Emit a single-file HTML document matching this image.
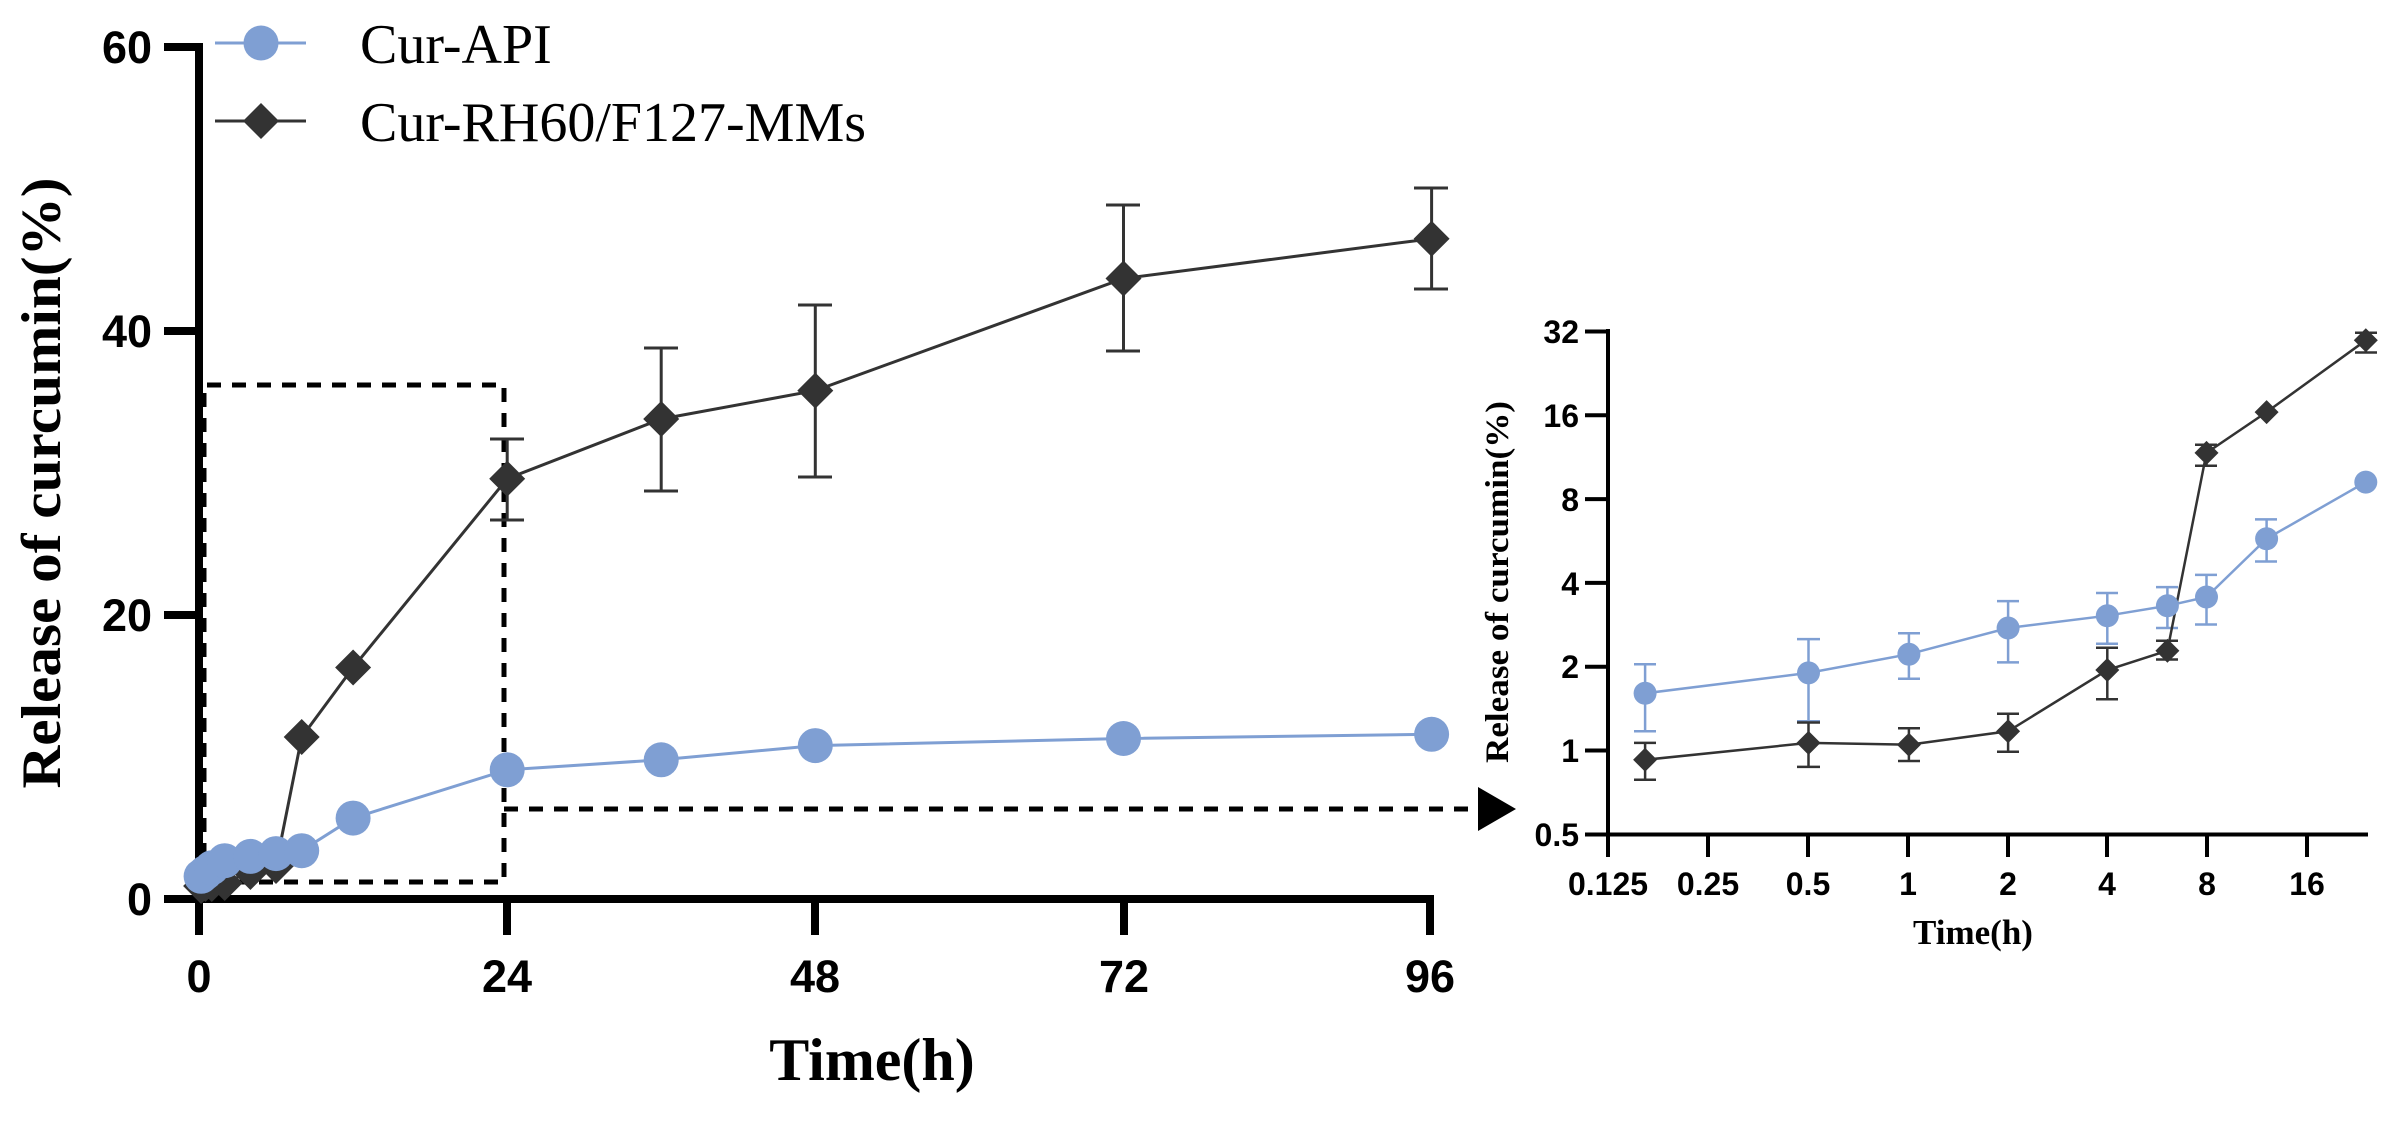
<!DOCTYPE html>
<html><head><meta charset="utf-8"><style>
html,body{margin:0;padding:0;background:#fff;}
svg{display:block;}
.tk{font-family:"Liberation Sans",Arial,sans-serif;font-weight:bold;}
.tm{font-family:"Liberation Serif","Times New Roman",serif;}
</style></head><body>
<svg width="2395" height="1124" viewBox="0 0 2395 1124" xmlns="http://www.w3.org/2000/svg">
<rect width="2395" height="1124" fill="#fff"/>
<!-- MAIN CHART -->
<g stroke="#000" stroke-width="8" fill="none">
<line x1="199" y1="43" x2="199" y2="903"/>
<line x1="195" y1="899" x2="1434" y2="899"/>
<line x1="164" y1="47" x2="199" y2="47"/>
<line x1="164" y1="331" x2="199" y2="331"/>
<line x1="164" y1="615" x2="199" y2="615"/>
<line x1="164" y1="899" x2="199" y2="899"/>
<line x1="199" y1="899" x2="199" y2="935"/>
<line x1="507" y1="899" x2="507" y2="935"/>
<line x1="815" y1="899" x2="815" y2="935"/>
<line x1="1124" y1="899" x2="1124" y2="935"/>
<line x1="1430" y1="899" x2="1430" y2="935"/>
</g>
<g class="tk" font-size="45" text-anchor="end" fill="#000">
<text x="152" y="63">60</text><text x="152" y="347">40</text><text x="152" y="631">20</text><text x="152" y="915">0</text>
</g>
<g class="tk" font-size="45" text-anchor="middle" fill="#000">
<text x="199" y="992">0</text><text x="507" y="992">24</text><text x="815" y="992">48</text><text x="1124" y="992">72</text><text x="1430" y="992">96</text>
</g>
<text class="tm" font-weight="bold" font-size="56" text-anchor="middle" transform="translate(60,483) rotate(-90)" textLength="611" lengthAdjust="spacingAndGlyphs">Release of curcumin(%)</text>
<text class="tm" font-weight="bold" font-size="60" text-anchor="middle" x="872" y="1080">Time(h)</text>
<!-- dashed box + arrow -->
<g stroke="#000" stroke-width="5" fill="none" stroke-dasharray="14,11">
<path d="M204,882 L204,385 L504,385 L504,882 Z"/>
<line x1="504" y1="809" x2="1480" y2="809"/>
</g>
<polygon points="1478,787 1516,809 1478,831" fill="#000"/>
<!-- blue series main -->
<g stroke="#7f9fd3" stroke-width="3" fill="none">
<polyline points="201.1,876.3 205.4,872.7 211.8,867.8 224.7,860.7 250.4,856.4 276,853.6 301.7,850.7 353.1,818.1 507.2,769.8 661.2,759.8 815.3,745.6 1123.5,738.5 1431.6,734.3"/>
</g>
<!-- black series main -->
<g stroke="#333" stroke-width="3" fill="none">
<polyline points="201.1,886.2 205.4,884.1 211.8,884.1 224.7,882.7 250.4,872 276,865.6 301.7,737.1 353.1,667.5 507.2,478.7 661.2,419 815.3,390.6 1123.5,278.5 1431.6,238.7"/>
<path d="M507.2,439 V520 M490,439 H524 M490,520 H524
M661.2,348 V491 M644,348 H678 M644,491 H678
M815.3,305 V477 M798,305 H832 M798,477 H832
M1123.5,205 V351 M1106,205 H1140 M1106,351 H1140
M1431.6,188 V289 M1414,188 H1448 M1414,289 H1448"/>
</g>
<g fill="#333">
<path d="M201.1,868l18,18l-18,18l-18,-18z M205.4,866l18,18l-18,18l-18,-18z M211.8,866l18,18l-18,18l-18,-18z M224.7,865l18,18l-18,18l-18,-18z M250.4,854l18,18l-18,18l-18,-18z M276,848l18,18l-18,18l-18,-18z M301.7,719l18,18l-18,18l-18,-18z M353.1,649.5l18,18l-18,18l-18,-18z M507.2,460.7l18,18l-18,18l-18,-18z M661.2,401l18,18l-18,18l-18,-18z M815.3,372.6l18,18l-18,18l-18,-18z M1123.5,260.5l18,18l-18,18l-18,-18z M1431.6,220.7l18,18l-18,18l-18,-18z"/>
</g>
<g fill="#7f9fd3">
<circle cx="201.1" cy="876.3" r="17.5"/><circle cx="205.4" cy="872.7" r="17.5"/><circle cx="211.8" cy="867.8" r="17.5"/><circle cx="224.7" cy="860.7" r="17.5"/><circle cx="250.4" cy="856.4" r="17.5"/><circle cx="276" cy="853.6" r="17.5"/><circle cx="301.7" cy="850.7" r="17.5"/><circle cx="353.1" cy="818.1" r="17.5"/><circle cx="507.2" cy="769.8" r="17.5"/><circle cx="661.2" cy="759.8" r="17.5"/><circle cx="815.3" cy="745.6" r="17.5"/><circle cx="1123.5" cy="738.5" r="17.5"/><circle cx="1431.6" cy="734.3" r="17.5"/>
</g>
<!-- legend -->
<line x1="215" y1="43" x2="306" y2="43" stroke="#7f9fd3" stroke-width="3"/>
<circle cx="261" cy="43" r="17.5" fill="#7f9fd3"/>
<line x1="215" y1="121" x2="306" y2="121" stroke="#333" stroke-width="3"/>
<path d="M261,103l18,18l-18,18l-18,-18z" fill="#333"/>
<text class="tm" font-size="56" x="360" y="63">Cur-API</text>
<text class="tm" font-size="56" x="360" y="141">Cur-RH60/F127-MMs</text>

<!-- INSET -->
<g stroke="#000" stroke-width="4" fill="none">
<line x1="1608" y1="329" x2="1608" y2="836"/>
<line x1="1606" y1="834.5" x2="2368" y2="834.5"/>
<line x1="1585" y1="331.5" x2="1608" y2="331.5"/>
<line x1="1585" y1="415.3" x2="1608" y2="415.3"/>
<line x1="1585" y1="499.1" x2="1608" y2="499.1"/>
<line x1="1585" y1="582.9" x2="1608" y2="582.9"/>
<line x1="1585" y1="666.7" x2="1608" y2="666.7"/>
<line x1="1585" y1="750.5" x2="1608" y2="750.5"/>
<line x1="1585" y1="834.5" x2="1608" y2="834.5"/>
<line x1="1608" y1="834.5" x2="1608" y2="857"/>
<line x1="1708" y1="834.5" x2="1708" y2="857"/>
<line x1="1808" y1="834.5" x2="1808" y2="857"/>
<line x1="1908" y1="834.5" x2="1908" y2="857"/>
<line x1="2008" y1="834.5" x2="2008" y2="857"/>
<line x1="2107" y1="834.5" x2="2107" y2="857"/>
<line x1="2207" y1="834.5" x2="2207" y2="857"/>
<line x1="2307" y1="834.5" x2="2307" y2="857"/>
</g>
<g class="tk" font-size="32" text-anchor="end" fill="#000">
<text x="1579" y="343">32</text><text x="1579" y="427">16</text><text x="1579" y="511">8</text><text x="1579" y="595">4</text><text x="1579" y="678">2</text><text x="1579" y="762">1</text><text x="1579" y="846">0.5</text>
</g>
<g class="tk" font-size="32" text-anchor="middle" fill="#000">
<text x="1608" y="895">0.125</text><text x="1708" y="895">0.25</text><text x="1808" y="895">0.5</text><text x="1908" y="895">1</text><text x="2008" y="895">2</text><text x="2107" y="895">4</text><text x="2207" y="895">8</text><text x="2307" y="895">16</text>
</g>
<text class="tm" font-weight="bold" font-size="33" text-anchor="middle" transform="translate(1508,582) rotate(-90)" textLength="362" lengthAdjust="spacingAndGlyphs">Release of curcumin(%)</text>
<text class="tm" font-weight="bold" font-size="35" text-anchor="middle" x="1973" y="944">Time(h)</text>
<!-- inset blue -->
<g stroke="#7f9fd3" stroke-width="2.5" fill="none">
<polyline points="1645.1,693.3 1808.5,672.9 1908.9,654.2 2008.1,628 2107.3,615.7 2167.4,605.8 2206.5,597 2266.6,538.7 2365.8,482.1"/>
<path d="M1645.1,664.2V731.3M1634,664.2H1656M1634,731.3H1656
M1808.5,639.1V721.3M1797,639.1H1820M1797,721.3H1820
M1908.9,633.2V678.7M1898,633.2H1920M1898,678.7H1920
M2008.1,601.1V662.4M1997,601.1H2019M1997,662.4H2019
M2107.3,593V643.7M2096,593H2118M2096,643.7H2118
M2167.4,587.1V628M2156,587.1H2178M2156,628H2178
M2206.5,574.9V624.5M2195,574.9H2217M2195,624.5H2217
M2266.6,519.4V561.5M2255,519.4H2277M2255,561.5H2277"/>
</g>
<g stroke="#333" stroke-width="2.5" fill="none">
<polyline points="1645.1,759.8 1808.5,742.9 1908.9,744.7 2008.1,731.3 2107.3,670 2167.4,650.7 2206.5,452.9 2266.6,412.1 2365.8,340.3"/>
<path d="M1645.1,742.9V779.7M1634,742.9H1656M1634,779.7H1656
M1808.5,722.5V766.9M1797,722.5H1820M1797,766.9H1820
M1908.9,728.3V761M1898,728.3H1920M1898,761H1920
M2008.1,713.8V751.7M1997,713.8H2019M1997,751.7H2019
M2107.3,647.8V699.2M2096,647.8H2118M2096,699.2H2118
M2167.4,640.8V659.5M2156,640.8H2178M2156,659.5H2178
M2206.5,444.7V465.8M2195,444.7H2217M2195,465.8H2217
M2365.8,332.7V352.5M2355,332.7H2377M2355,352.5H2377"/>
</g>
<g fill="#7f9fd3">
<circle cx="1645.1" cy="693.3" r="11.5"/><circle cx="1808.5" cy="672.9" r="11.5"/><circle cx="1908.9" cy="654.2" r="11.5"/><circle cx="2008.1" cy="628" r="11.5"/><circle cx="2107.3" cy="615.7" r="11.5"/><circle cx="2167.4" cy="605.8" r="11.5"/><circle cx="2206.5" cy="597" r="11.5"/><circle cx="2266.6" cy="538.7" r="11.5"/><circle cx="2365.8" cy="482.1" r="11.5"/>
</g>
<g fill="#333">
<path d="M1645.1,747.8l12,12l-12,12l-12,-12z M1808.5,730.9l12,12l-12,12l-12,-12z M1908.9,732.7l12,12l-12,12l-12,-12z M2008.1,719.3l12,12l-12,12l-12,-12z M2107.3,658l12,12l-12,12l-12,-12z M2167.4,638.7l12,12l-12,12l-12,-12z M2206.5,440.9l12,12l-12,12l-12,-12z M2266.6,400.1l12,12l-12,12l-12,-12z M2365.8,328.3l12,12l-12,12l-12,-12z"/>
</g>
</svg>
</body></html>
